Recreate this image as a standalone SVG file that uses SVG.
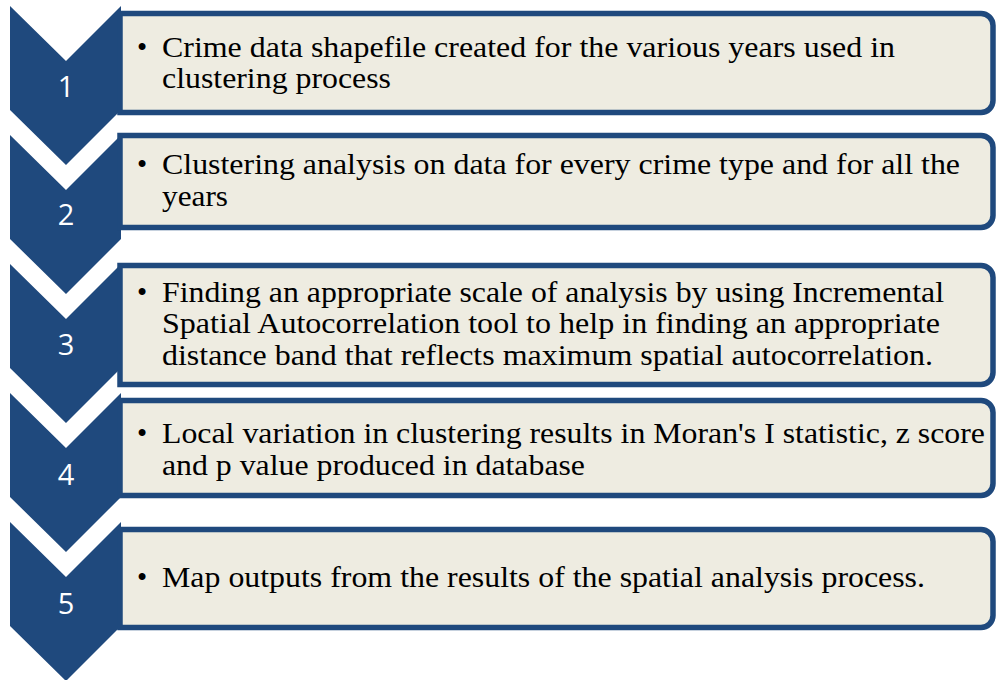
<svg xmlns="http://www.w3.org/2000/svg" width="996" height="680" viewBox="0 0 996 680">
<defs>
<style>
.chev{fill:#1F497D;}
.box{fill:#EEECE1;stroke:#1F497D;stroke-width:5.5;}
.num{font-family:"Open Sans","Liberation Sans",sans-serif;font-size:29px;fill:#FFFFFF;text-anchor:middle;}
.txt{font-family:"Liberation Serif","Times New Roman",serif;font-size:29px;fill:#000000;}
</style>
</defs>
<rect width="996" height="680" fill="#FFFFFF"/>
<g id="step1">
<polygon class="chev" points="10,6 66,61 121,6 121,110 66,165 10,110"/>
<path class="box" d="M120,13.5 H981 A12,12 0 0 1 993,25.5 V100.5 A12,12 0 0 1 981,112.5 H120 Z"/>
<text class="num" x="66" y="97">1</text>
<text class="txt" x="137" y="57">•</text>
<text class="txt" x="162" y="57" textLength="733" lengthAdjust="spacingAndGlyphs">Crime data shapefile created for the various years used in</text>
<text class="txt" x="162" y="88" textLength="229" lengthAdjust="spacingAndGlyphs">clustering process</text>
</g>
<g id="step2">
<polygon class="chev" points="10,135 66,190 121,135 121,239 66,294 10,239"/>
<path class="box" d="M120,135.5 H981 A12,12 0 0 1 993,147.5 V215.5 A12,12 0 0 1 981,227.5 H120 Z"/>
<text class="num" x="66" y="225">2</text>
<text class="txt" x="137" y="174">•</text>
<text class="txt" x="162" y="174" textLength="798" lengthAdjust="spacingAndGlyphs">Clustering analysis on data for every crime type and for all the</text>
<text class="txt" x="162" y="206" textLength="66" lengthAdjust="spacingAndGlyphs">years</text>
</g>
<g id="step3">
<polygon class="chev" points="10,264 66,319 121,264 121,368 66,423 10,368"/>
<path class="box" d="M120,265.5 H981 A12,12 0 0 1 993,277.5 V372.5 A12,12 0 0 1 981,384.5 H120 Z"/>
<text class="num" x="66" y="355">3</text>
<text class="txt" x="137" y="302">•</text>
<text class="txt" x="162" y="302" textLength="782" lengthAdjust="spacingAndGlyphs">Finding an appropriate scale of analysis by using Incremental</text>
<text class="txt" x="162" y="333" textLength="778" lengthAdjust="spacingAndGlyphs">Spatial Autocorrelation tool to help in finding an appropriate</text>
<text class="txt" x="162" y="365" textLength="771" lengthAdjust="spacingAndGlyphs">distance band that reflects maximum spatial autocorrelation.</text>
</g>
<g id="step4">
<polygon class="chev" points="10,393 66,448 121,393 121,497 66,552 10,497"/>
<path class="box" d="M120,400.5 H981 A12,12 0 0 1 993,412.5 V483.5 A12,12 0 0 1 981,495.5 H120 Z"/>
<text class="num" x="66" y="485">4</text>
<text class="txt" x="137" y="443">•</text>
<text class="txt" x="162" y="443" textLength="823" lengthAdjust="spacingAndGlyphs">Local variation in clustering results in Moran's I statistic, z score</text>
<text class="txt" x="162" y="475" textLength="423" lengthAdjust="spacingAndGlyphs">and p value produced in database</text>
</g>
<g id="step5">
<polygon class="chev" points="10,522 66,577 121,522 121,626 66,681 10,626"/>
<path class="box" d="M120,529.5 H981 A12,12 0 0 1 993,541.5 V615.5 A12,12 0 0 1 981,627.5 H120 Z"/>
<text class="num" x="66" y="614">5</text>
<text class="txt" x="137" y="587">•</text>
<text class="txt" x="162" y="587" textLength="763" lengthAdjust="spacingAndGlyphs">Map outputs from the results of the spatial analysis process.</text>
</g>
<g id="connectors"></g>
</svg>
